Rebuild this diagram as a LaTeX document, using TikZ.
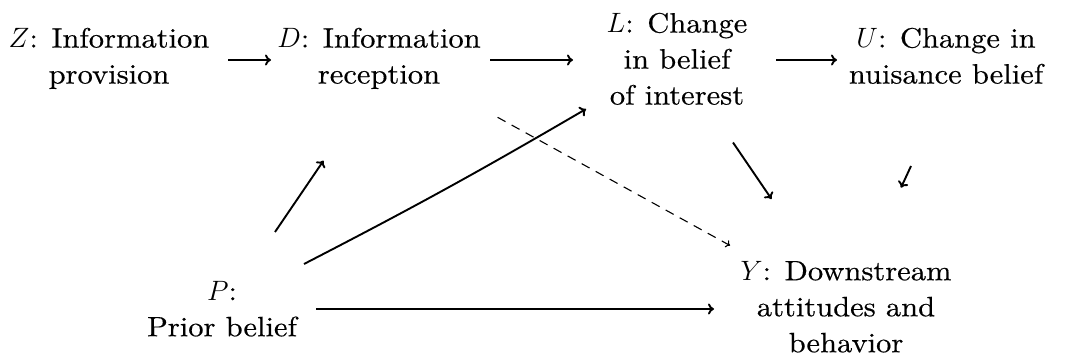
\RequirePackage{fix-cm}
\documentclass[tikz,border=0pt]{standalone}
\usepackage{fontspec}
\setmainfont{lmroman10-regular}[Extension=.otf, FakeStretch=1.09, FakeBold=0.4]
\usetikzlibrary{calc,arrows.meta}
\begin{document}
\begin{tikzpicture}[x=1pt,y=-1pt,
  lbl/.style={align=center, inner sep=0pt, anchor=north, font=\fontsize{28}{36}\selectfont},
  edge/.style={-{To[length=6pt,width=11pt]}, line width=1.9pt},
  dashedge/.style={-{To[length=4pt,width=8pt]}, line width=1.1pt, dash pattern=on 9pt off 7pt}]
\useasboundingbox (0,0) rectangle (1067,363);
\node[lbl] (Z) at (109,27.6) {$Z$: Information\\provision};
\node[lbl] (D) at (379,27.6) {$D$: Information\\reception};
\node[lbl] (L) at (677,12.6) {$L$: Change\\in belief\\of interest};
\node[lbl] (U) at (946,27.6) {$U$: Change in\\nuisance belief};
\node[lbl] (P) at (222,280.9) {$P$:\\Prior belief};
\node[lbl] (Y) at (846,260.9) {$Y$: Downstream\\attitudes and\\behavior};
\draw[edge] ($(Z.north)+(119,32.4)$) -- ($(D.north)+(-108,32.4)$);
\draw[edge] ($(D.north)+(111,32.4)$) -- ($(L.north)+(-104,47.4)$);
\draw[edge] ($(L.north)+(99,47.4)$) -- ($(U.north)+(-109,32.4)$);
\draw[edge] ($(P.north)+(53,-48.9)$) -- ($(D.north)+(-55.5,133.1)$);
\draw[edge] ($(P.north)+(82,-16.9)$) to[bend right=1.5] ($(L.north)+(-91,96.4)$);
\draw[dashedge] ($(D.north)+(118.6,89.7)$) -- ($(Y.north)+(-116,-15.4)$);
\draw[edge] ($(L.north)+(56,129.9)$) -- ($(Y.north)+(-74.5,-61.9)$);
\draw[edge] ($(U.north)+(-35,138.4)$) -- ($(Y.north)+(55,-73.2)$);
\draw[edge] ($(P.north)+(94,28.1)$) -- ($(Y.north)+(-132,48.1)$);
\end{tikzpicture}
\end{document}
